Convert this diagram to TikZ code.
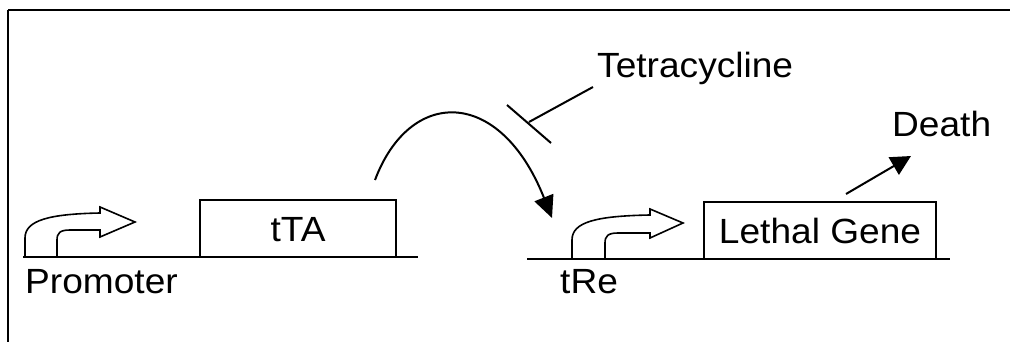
\documentclass[tikz,border=0pt]{standalone}
\usepackage{fontspec}
\setmainfont[FakeStretch=1.06]{Liberation Sans}
\usetikzlibrary{arrows.meta}
\begin{document}
\begin{tikzpicture}[x=1pt,y=-1pt,
  line join=miter,
  label/.style={inner sep=0pt, font=\fontsize{35}{40}\selectfont},
  genebox/.style={draw, line width=1.5pt},
  dna/.style={line width=1.5pt},
  promo/.style={line width=1.6pt, line join=miter},
  act/.style={line width=2pt, -{Triangle[length=22pt,width=20pt]}},
  inhib/.style={line width=2pt}]
\useasboundingbox (0,0) rectangle (1010,342);
% frame
\draw[line width=1.5pt] (8,342) -- (8,10);
\draw[line width=2pt] (8,10) -- (1010,10);

% DNA strands
\coordinate (l0) at (23,257);
\coordinate (l1) at (418,257);
\coordinate (r0) at (527,259);
\coordinate (r1) at (950,259);
\draw[dna] (l0) -- (l1);
\draw[dna] (r0) -- (r1);

% gene boxes
\draw[genebox] (200,257) rectangle (396,200);
\node[label, anchor=base] (tta) at (298,241) {tTA};
\draw[genebox] (704,259) rectangle (936,202);
\node[label, anchor=base] (lethal) at (820,243) {Lethal Gene};

% promoter arrows
\draw[promo] (25,257) -- (25,238) .. controls (25,220) and (50,214) .. (100,213)
  -- (100,207) -- (135,222) -- (100,237) -- (100,230) -- (70,230)
  .. controls (60,230) and (57,233) .. (57,240) -- (57,257);
\draw[promo] (572,259) -- (572,240) .. controls (572,222) and (596,216) .. (650,215)
  -- (650,209) -- (683,223) -- (650,238) -- (650,233) -- (618,233)
  .. controls (608,233) and (605,236) .. (605,243) -- (605,259);

% labels
\node[label, anchor=base west] (prom) at (25,293) {Promoter};
\node[label, anchor=base west] (tre) at (560,293) {tRe};
\node[label, anchor=base west] (tet) at (597,78) {Tetracycline};
\node[label, anchor=base west] (death) at (892,137) {Death};

% activation by tTA
\coordinate (a0) at (375,180);
\coordinate (a1) at (552,218);
\draw[act] (a0) .. controls (410,87) and (500,87) .. (a1);

% tetracycline inhibition
\coordinate (t0) at (593,87);
\coordinate (t1) at (529,122);
\coordinate (b0) at (507,105);
\coordinate (b1) at (551,143);
\draw[inhib] (t0) -- (t1);
\draw[inhib] (b0) -- (b1);

% lethal gene leads to death
\coordinate (d0) at (846,194);
\coordinate (d1) at (911,156);
\draw[line width=2pt, -{Triangle[length=20pt,width=20pt]}] (d0) -- (d1);
\end{tikzpicture}
\end{document}
